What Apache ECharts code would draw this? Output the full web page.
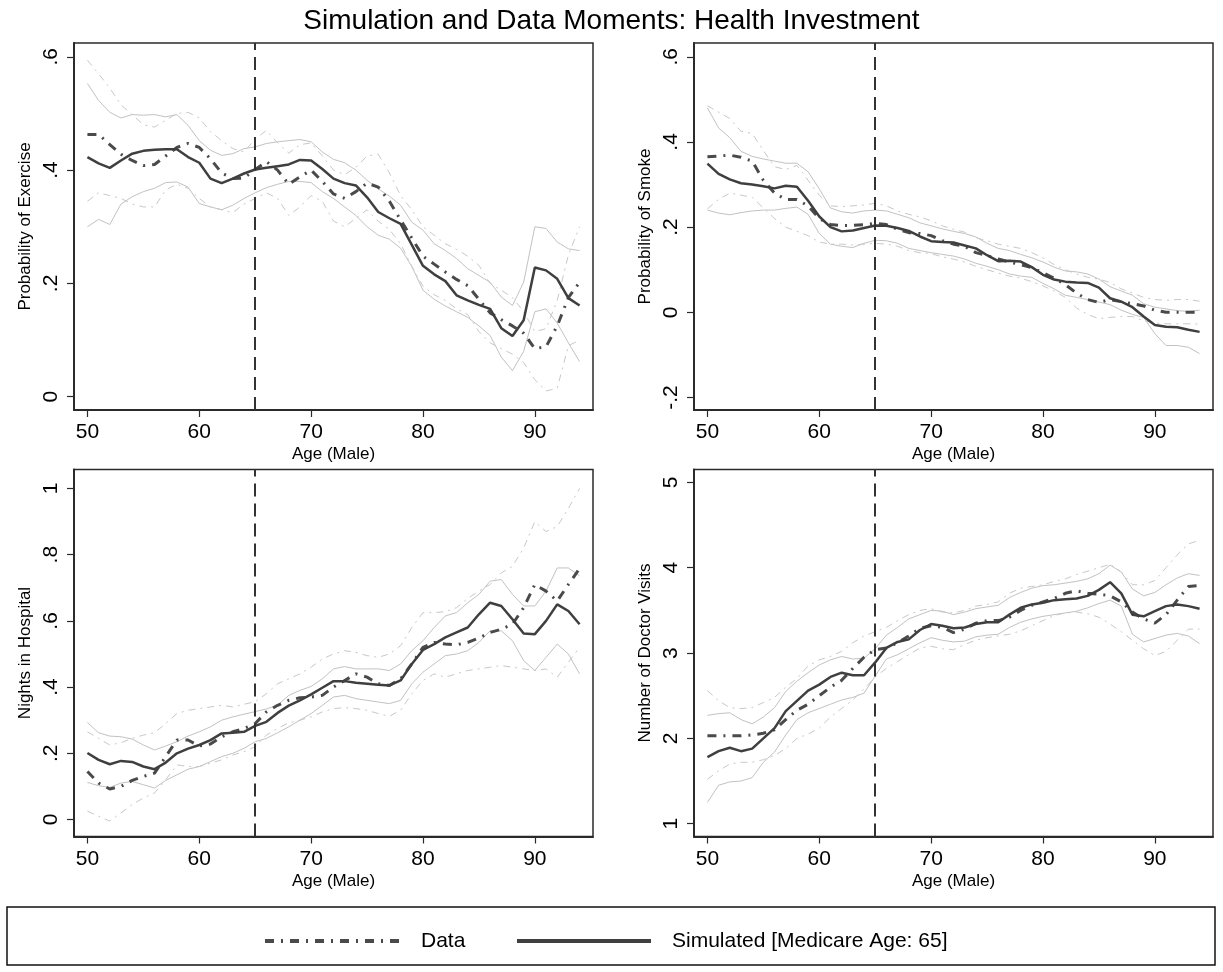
<!DOCTYPE html>
<html>
<head>
<meta charset="utf-8">
<script src="https://cdn.jsdelivr.net/npm/echarts@6/dist/echarts.min.js"></script>
<style>
html,body{margin:0;padding:0;background:#fff;}
#chart{width:1223px;height:972px;}
</style>
</head>
<body>
<div id="chart"></div>
<script>
// ---------- DATA ----------
const AGES = [50,51,52,53,54,55,56,57,58,59,60,61,62,63,64,65,66,67,68,69,70,71,72,73,74,75,76,77,78,79,80,81,82,83,84,85,86,87,88,89,90,91,92,93,94];
const X_TICKS = [50,60,70,80,90];
const MEDICARE_AGE = 65;

// Panel 1: Probability of Exercise
const exerciseSim  = [.423,.412,.404,.417,.429,.434,.436,.437,.437,.423, .413,.385,.377,.385,.394,.401,.404,.407,.410,.418, .417,.402,.385,.377,.373,.352,.326,.315,.305,.268, .231,.216,.204,.179,.170,.162,.155,.121,.107,.135, .228,.223,.208,.174,.161];
const exerciseData = [.463,.463,.445,.428,.417,.408,.410,.425,.440,.447, .440,.420,.395,.385,.386,.401,.415,.400,.375,.388, .400,.380,.358,.350,.362,.377,.370,.345,.312,.280, .248,.234,.220,.207,.196,.172,.148,.136,.125,.112, .085,.088,.125,.175,.202];
const exerciseSimUp   = [.553,.523,.502,.492,.498,.497,.498,.494,.498,.479, .452,.435,.426,.429,.438,.441,.447,.450,.452,.454, .450,.432,.419,.413,.400,.382,.367,.354,.338,.308, .294,.270,.258,.244,.226,.214,.202,.176,.161,.202, .300,.297,.273,.261,.258];
const exerciseSimLow  = [.300,.313,.304,.340,.353,.362,.368,.378,.379,.370, .341,.335,.330,.338,.350,.360,.369,.375,.380,.380, .378,.362,.350,.335,.320,.300,.285,.278,.262,.230, .188,.172,.160,.150,.140,.125,.108,.070,.046,.080, .150,.155,.130,.095,.062];
const exerciseDataUp  = [.594,.570,.545,.515,.498,.480,.476,.488,.500,.502, .492,.468,.452,.438,.432,.455,.470,.448,.430,.445, .448,.425,.400,.392,.405,.425,.428,.395,.355,.330, .300,.285,.270,.260,.248,.232,.200,.188,.175,.150, .115,.120,.170,.250,.300];
const exerciseDataLow = [.345,.360,.355,.350,.340,.335,.335,.365,.375,.368, .350,.335,.330,.325,.340,.350,.360,.350,.320,.335, .355,.345,.310,.300,.315,.330,.310,.295,.270,.230, .195,.180,.170,.155,.145,.115,.095,.085,.075,.060, .030,.010,.015,.090,.100];
const exerciseTicks = [0,0.2,0.4,0.6];
const exerciseTickLabels = ['0','.2','.4','.6'];

// Panel 2: Probability of Smoke
const smokeSim  = [.349,.325,.312,.303,.300,.296,.291,.297,.295,.262, .225,.200,.190,.192,.198,.204,.203,.198,.191,.178, .167,.165,.164,.157,.150,.134,.120,.121,.119,.106, .088,.077,.072,.070,.069,.058,.033,.025,.012,-.010, -.030,-.034,-.035,-.041,-.046];
const smokeData = [.365,.367,.369,.364,.355,.310,.280,.265,.265,.250, .220,.206,.204,.204,.206,.209,.206,.195,.187,.185, .180,.168,.160,.155,.140,.133,.125,.118,.112,.105, .093,.080,.065,.045,.030,.023,.030,.025,.020,.015, .005,.000,.000,.000,.000];
const smokeSimUp   = [.480,.433,.410,.378,.366,.360,.355,.350,.350,.330, .290,.245,.236,.233,.238,.240,.238,.230,.222,.210, .203,.196,.190,.185,.177,.162,.150,.145,.136,.128, .118,.106,.097,.095,.090,.078,.060,.050,.040,.020, .012,.008,.004,.002,.005];
const smokeSimLow  = [.240,.233,.229,.234,.238,.240,.240,.244,.247,.230, .185,.160,.155,.152,.162,.169,.168,.162,.150,.145, .140,.136,.132,.125,.115,.108,.100,.090,.085,.082, .068,.055,.040,.035,.030,.024,.018,.005,-.005,-.012, -.050,-.078,-.078,-.082,-.097];
const smokeDataUp  = [.485,.470,.455,.425,.420,.380,.342,.335,.345,.310, .275,.250,.248,.250,.252,.256,.250,.238,.230,.224, .215,.203,.195,.188,.175,.168,.160,.155,.150,.140, .128,.112,.100,.090,.082,.078,.070,.055,.045,.035, .030,.028,.030,.030,.026];
const smokeDataLow = [.243,.265,.280,.275,.270,.245,.220,.200,.190,.180, .165,.160,.160,.158,.160,.162,.160,.155,.145,.140, .138,.130,.125,.118,.108,.100,.092,.085,.080,.072, .062,.050,.035,.010,-.005,-.015,-.012,-.010,-.010,-.020, -.025,-.027,-.027,-.027,-.028];
const smokeTicks = [-0.2,0,0.2,0.4,0.6];
const smokeTickLabels = ['-.2','0','.2','.4','.6'];

// Panel 3: Nights in Hospital
const hospitalSim  = [.201,.180,.167,.177,.174,.160,.152,.172,.200,.214, .225,.240,.260,.262,.265,.283,.295,.322,.344,.360, .378,.398,.418,.418,.413,.410,.407,.405,.420,.470, .512,.530,.550,.565,.580,.620,.655,.645,.605,.562, .560,.600,.650,.630,.590];
const hospitalData = [.145,.110,.092,.100,.118,.130,.140,.190,.240,.240, .222,.228,.250,.265,.275,.290,.325,.345,.360,.368, .370,.375,.400,.420,.440,.430,.410,.405,.425,.470, .520,.535,.530,.528,.535,.548,.565,.575,.590,.640, .710,.690,.660,.710,.758];
const hospitalSimUp   = [.293,.262,.252,.250,.243,.225,.210,.222,.235,.252, .265,.280,.300,.310,.318,.326,.334,.345,.375,.390, .402,.425,.455,.462,.455,.455,.455,.450,.470,.510, .540,.580,.615,.625,.655,.680,.720,.725,.680,.645, .645,.690,.760,.760,.736];
const hospitalSimLow  = [.112,.102,.097,.110,.115,.105,.095,.118,.135,.152, .160,.175,.190,.200,.215,.235,.245,.262,.280,.300, .320,.345,.370,.375,.365,.360,.355,.350,.360,.410, .445,.470,.495,.500,.510,.535,.570,.570,.540,.480, .450,.490,.530,.500,.440];
const hospitalDataUp  = [.265,.245,.225,.232,.245,.255,.262,.290,.320,.330, .335,.340,.345,.340,.348,.356,.380,.410,.425,.440, .460,.485,.500,.510,.505,.495,.490,.500,.525,.580, .625,.625,.628,.640,.668,.690,.710,.745,.765,.820, .900,.870,.885,.940,1.000];
const hospitalDataLow = [.025,.010,-.005,.020,.045,.065,.080,.120,.165,.160, .160,.170,.180,.195,.205,.220,.255,.275,.292,.300, .310,.325,.335,.338,.335,.330,.320,.312,.330,.380, .420,.440,.430,.440,.450,.455,.460,.465,.460,.455, .450,.455,.430,.475,.520];
const hospitalTicks = [0,0.2,0.4,0.6,0.8,1];
const hospitalTickLabels = ['0','.2','.4','.6','.8','1'];

// Panel 4: Number of Doctor Visits
const doctorSim  = [1.78,1.85,1.89,1.85,1.88,2.00,2.12,2.32,2.44,2.56, 2.63,2.72,2.77,2.74,2.74,2.89,3.06,3.13,3.16,3.27, 3.34,3.32,3.29,3.30,3.34,3.36,3.36,3.45,3.53,3.57, 3.59,3.62,3.63,3.64,3.67,3.74,3.83,3.70,3.45,3.43, 3.49,3.55,3.57,3.55,3.52];
const doctorData = [2.03,2.03,2.03,2.03,2.04,2.06,2.10,2.22,2.33,2.40, 2.50,2.60,2.68,2.82,2.95,3.04,3.06,3.12,3.20,3.29, 3.32,3.30,3.24,3.28,3.35,3.38,3.38,3.42,3.50,3.56, 3.60,3.64,3.70,3.73,3.70,3.69,3.67,3.60,3.48,3.40, 3.35,3.45,3.62,3.78,3.79];
const doctorSimUp   = [2.27,2.29,2.30,2.22,2.17,2.25,2.36,2.55,2.67,2.77, 2.86,2.92,2.96,2.93,2.94,3.05,3.21,3.30,3.40,3.45, 3.50,3.49,3.45,3.48,3.52,3.54,3.56,3.65,3.71,3.76, 3.79,3.80,3.82,3.84,3.87,3.93,4.03,3.95,3.75,3.67, 3.71,3.80,3.88,3.93,3.91];
const doctorSimLow  = [1.25,1.45,1.49,1.50,1.54,1.72,1.84,2.04,2.22,2.30, 2.35,2.40,2.45,2.48,2.53,2.73,2.93,2.98,3.05,3.12, 3.18,3.15,3.13,3.14,3.19,3.21,3.22,3.30,3.36,3.40, 3.43,3.45,3.47,3.49,3.53,3.58,3.62,3.55,3.22,3.13, 3.17,3.21,3.23,3.20,3.11];
const doctorDataUp  = [2.56,2.44,2.36,2.35,2.36,2.42,2.48,2.60,2.70,2.85, 2.92,2.96,3.02,3.12,3.20,3.25,3.30,3.38,3.45,3.50, 3.52,3.48,3.47,3.50,3.55,3.57,3.60,3.70,3.76,3.78, 3.80,3.84,3.87,3.92,3.96,4.00,4.04,3.95,3.80,3.80, 3.85,4.00,4.15,4.28,4.32];
const doctorDataLow = [1.52,1.62,1.70,1.72,1.72,1.75,1.80,1.88,2.00,2.05, 2.12,2.25,2.35,2.45,2.58,2.72,2.82,2.90,2.98,3.06, 3.08,3.05,3.04,3.10,3.15,3.18,3.20,3.22,3.26,3.32, 3.38,3.44,3.47,3.48,3.46,3.42,3.34,3.25,3.15,3.05, 2.97,3.02,3.15,3.28,3.28];
const doctorTicks = [1,2,3,4,5];
const doctorTickLabels = ['1','2','3','4','5'];

// ---------- CHART ----------
const FONT = '"Liberation Sans", Arial, Helvetica, sans-serif';
const DATA_NAME = 'Data';
const SIM_NAME = 'Simulated [Medicare Age: 65]';
const DATA_COLOR = '#4a4a4a', SIM_COLOR = '#3f3f3f';
const DATA_DASH = [9,7,2,7];

const panels = [
  {title:'Probability of Exercise', grid:{left:74, top:43, width:519, height:367}, yMin:-0.0235, yMax:0.6244,
   ticks:exerciseTicks, labels:exerciseTickLabels,
   sim:exerciseSim, data:exerciseData, simUp:exerciseSimUp, simLow:exerciseSimLow, dataUp:exerciseDataUp, dataLow:exerciseDataLow},
  {title:'Probability of Smoke', grid:{left:694, top:43, width:519, height:367}, yMin:-0.2294, yMax:0.6323,
   ticks:smokeTicks, labels:smokeTickLabels,
   sim:smokeSim, data:smokeData, simUp:smokeSimUp, simLow:smokeSimLow, dataUp:smokeDataUp, dataLow:smokeDataLow},
  {title:'Nights in Hospital', grid:{left:74, top:469.5, width:519, height:367}, yMin:-0.0514, yMax:1.0574,
   ticks:hospitalTicks, labels:hospitalTickLabels,
   sim:hospitalSim, data:hospitalData, simUp:hospitalSimUp, simLow:hospitalSimLow, dataUp:hospitalDataUp, dataLow:hospitalDataLow},
  {title:'Number of Doctor Visits', grid:{left:694, top:469.5, width:519, height:367}, yMin:0.850, yMax:5.151,
   ticks:doctorTicks, labels:doctorTickLabels,
   sim:doctorSim, data:doctorData, simUp:doctorSimUp, simLow:doctorSimLow, dataUp:doctorDataUp, dataLow:doctorDataLow}
];

function pairs(vals){ return AGES.map((a,i)=>[a, vals[i]]); }

const grids = [], xAxes = [], yAxes = [], series = [];
panels.forEach((p, i) => {
  grids.push(Object.assign({show:true, borderColor:'#2a2a2a', borderWidth:1.5, backgroundColor:'#fff', containLabel:false}, p.grid));
  xAxes.push({
    type:'value', gridIndex:i, min:48.8, max:95.2,
    name:'Age (Male)', nameLocation:'middle', nameGap:36,
    nameTextStyle:{fontSize:17, fontFamily:FONT, color:'#000'},
    axisLine:{show:true, onZero:false, lineStyle:{color:'#2a2a2a', width:2}},
    axisTick:{show:true, length:7, lineStyle:{color:'#2a2a2a', width:1.2}, customValues:X_TICKS},
    axisLabel:{show:true, fontSize:21, fontFamily:FONT, color:'#000', margin:12, customValues:X_TICKS},
    splitLine:{show:false}
  });
  const lab = {};
  p.ticks.forEach((t,k)=>{ lab[t.toFixed(3)] = p.labels[k]; });
  yAxes.push({
    type:'value', gridIndex:i, min:p.yMin, max:p.yMax,
    name:p.title, nameLocation:'middle', nameGap:40,
    nameTextStyle:{fontSize:17, fontFamily:FONT, color:'#000'},
    axisLine:{show:true, onZero:false, lineStyle:{color:'#2a2a2a', width:2}},
    axisTick:{show:true, length:7, lineStyle:{color:'#2a2a2a', width:1.2}, customValues:p.ticks},
    axisLabel:{show:true, fontSize:21, fontFamily:FONT, color:'#000', margin:12, rotate:90,
      customValues:p.ticks, formatter:(v)=> lab[Number(v).toFixed(3)] ?? String(v)},
    splitLine:{show:false}
  });
  const common = {type:'line', xAxisIndex:i, yAxisIndex:i, symbol:'none', showSymbol:false, silent:true, animation:false};
  series.push(Object.assign({}, common, {name:'simUp'+i, data:pairs(p.simUp), z:2,
    lineStyle:{color:'#c2c2c2', width:1}, itemStyle:{color:'#c2c2c2'}}));
  series.push(Object.assign({}, common, {name:'simLow'+i, data:pairs(p.simLow), z:2,
    lineStyle:{color:'#c2c2c2', width:1}, itemStyle:{color:'#c2c2c2'}}));
  series.push(Object.assign({}, common, {name:'dataUp'+i, data:pairs(p.dataUp), z:2,
    lineStyle:{color:'#c8c8c8', width:1, type:[7,5,2,5]}, itemStyle:{color:'#c8c8c8'}}));
  series.push(Object.assign({}, common, {name:'dataLow'+i, data:pairs(p.dataLow), z:2,
    lineStyle:{color:'#c8c8c8', width:1, type:[7,5,2,5]}, itemStyle:{color:'#c8c8c8'}}));
  series.push(Object.assign({}, common, {name:DATA_NAME, data:pairs(p.data), z:3,
    color:DATA_COLOR, lineStyle:{color:DATA_COLOR, width:3, type:DATA_DASH}, itemStyle:{color:DATA_COLOR}}));
  series.push(Object.assign({}, common, {name:SIM_NAME, data:pairs(p.sim), z:4,
    color:SIM_COLOR, lineStyle:{color:SIM_COLOR, width:2.5}, itemStyle:{color:SIM_COLOR},
    markLine:{silent:true, symbol:'none', animation:false, label:{show:false},
      lineStyle:{color:'#333', width:2, type:[13,7]}, data:[{xAxis:MEDICARE_AGE}]}}));
});

// Legend (drawn as graphic keys inside a framed box, matching the reference)
const LEGEND_Y = 941;
const legendGraphics = [
  {type:'rect', shape:{x:7, y:907, width:1208, height:58}, z:-1, silent:true,
    style:{fill:'#fff', stroke:'#111', lineWidth:1.5}},
  {type:'line', shape:{x1:265, y1:LEGEND_Y, x2:399, y2:LEGEND_Y}, silent:true,
    style:{stroke:DATA_COLOR, lineWidth:4, lineDash:DATA_DASH}},
  {type:'text', x:421, y:LEGEND_Y, silent:true,
    style:{text:DATA_NAME, fontSize:21, fontFamily:FONT, fill:'#000', verticalAlign:'middle', align:'left'}},
  {type:'line', shape:{x1:517, y1:LEGEND_Y, x2:651, y2:LEGEND_Y}, silent:true,
    style:{stroke:SIM_COLOR, lineWidth:4}},
  {type:'text', x:672, y:LEGEND_Y, silent:true,
    style:{text:SIM_NAME, fontSize:21, fontFamily:FONT, fill:'#000', verticalAlign:'middle', align:'left'}}
];

const chart = echarts.init(document.getElementById('chart'), null, {renderer:'canvas'});
chart.setOption({
  animation:false,
  backgroundColor:'#fff',
  title:{text:'Simulation and Data Moments: Health Investment', left:'center', top:2,
    textStyle:{fontSize:28, fontWeight:'normal', fontFamily:FONT, color:'#000'}},
  graphic:legendGraphics,
  grid:grids, xAxis:xAxes, yAxis:yAxes, series:series
});
</script>
</body>
</html>
